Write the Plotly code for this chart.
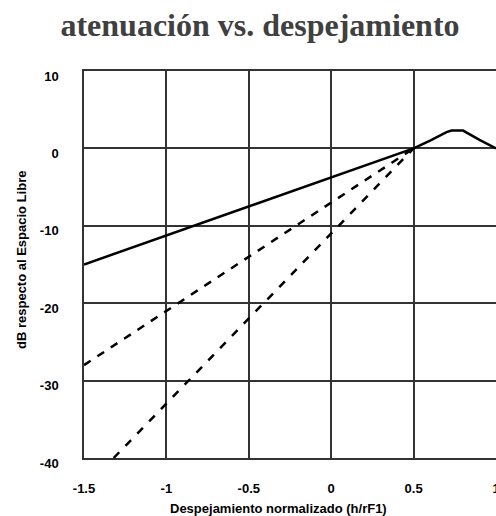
import plotly.graph_objects as go

# Data
x_solid = [-1.5, 0.5, 0.6, 0.65, 0.7, 0.73, 0.8, 0.9, 1.0]
y_solid = [-15, 0, 1.0, 1.6, 2.1, 2.3, 2.3, 1.1, 0]
x_dash1 = [-1.5, 0.5]
y_dash1 = [-28, 0]
x_dash2 = [-1.32, 0.5]
y_dash2 = [-40, 0]
x_ticks = [-1.5, -1, -0.5, 0, 0.5, 1]
x_ticklabels = ["-1.5", "-1", "-0.5", "0", "0.5", "1"]
y_ticks = [10, 0, -10, -20, -30, -40]
y_ticklabels = ["10", "0", "-10", "-20", "-30", "-40"]

fig = go.Figure()
fig.add_trace(go.Scatter(x=x_solid, y=y_solid, mode="lines",
                         line=dict(color="black", width=2.5), showlegend=False))
fig.add_trace(go.Scatter(x=x_dash1, y=y_dash1, mode="lines",
                         line=dict(color="black", width=2.5, dash="8px,8px"), showlegend=False))
fig.add_trace(go.Scatter(x=x_dash2, y=y_dash2, mode="lines",
                         line=dict(color="black", width=2.5, dash="8px,9px"), showlegend=False))

tickfont = dict(family="Liberation Sans, Arial", size=13, color="black", weight="bold")

fig.update_layout(
    width=496, height=516,
    margin=dict(l=84, r=0, t=71, b=58),
    paper_bgcolor="white", plot_bgcolor="white",
    title=dict(text="<b>atenuación vs. despejamiento</b>",
               font=dict(family="Liberation Serif", size=32, color="#404040"),
               x=260 / 496, xanchor="center", xref="container",
               y=1 - 25 / 516, yref="container", yanchor="middle"),
    xaxis=dict(range=[-1.5, 1.0], tickvals=x_ticks, ticktext=x_ticklabels,
               showgrid=True, gridcolor="#333333", gridwidth=1.5,
               showline=True, linecolor="#333333", linewidth=1.5, mirror=True,
               zeroline=False, ticks="", ticklabelstandoff=18,
               ticklabeloverflow="allow",
               tickfont=tickfont, automargin=False),
    yaxis=dict(range=[-40, 10], tickvals=y_ticks, ticktext=y_ticklabels,
               showgrid=True, gridcolor="#333333", gridwidth=1.5,
               showline=True, linecolor="#333333", linewidth=1.5, mirror=True,
               zeroline=False, ticks="", ticklabelstandoff=21, ticklabelshift=5,
               tickfont=tickfont, automargin=False),
    annotations=[
        dict(text="<b>Despejamiento normalizado (h/rF1)</b>", xref="paper", yref="paper",
             x=(278 - 84) / 412, y=(458 - 508) / 387, xanchor="center", yanchor="middle",
             showarrow=False, font=dict(family="Liberation Sans, Arial", size=13, color="black")),
        dict(text="<b>dB respecto al Espacio Libre</b>", xref="paper", yref="paper",
             x=(21 - 84) / 412, y=(458 - 260) / 387, xanchor="center", yanchor="middle",
             textangle=-90, showarrow=False,
             font=dict(family="Liberation Sans, Arial", size=13, color="black")),
    ],
)

fig.write_html("out.html", config={"displayModeBar": False},
               post_script="document.body.style.margin='0';")
